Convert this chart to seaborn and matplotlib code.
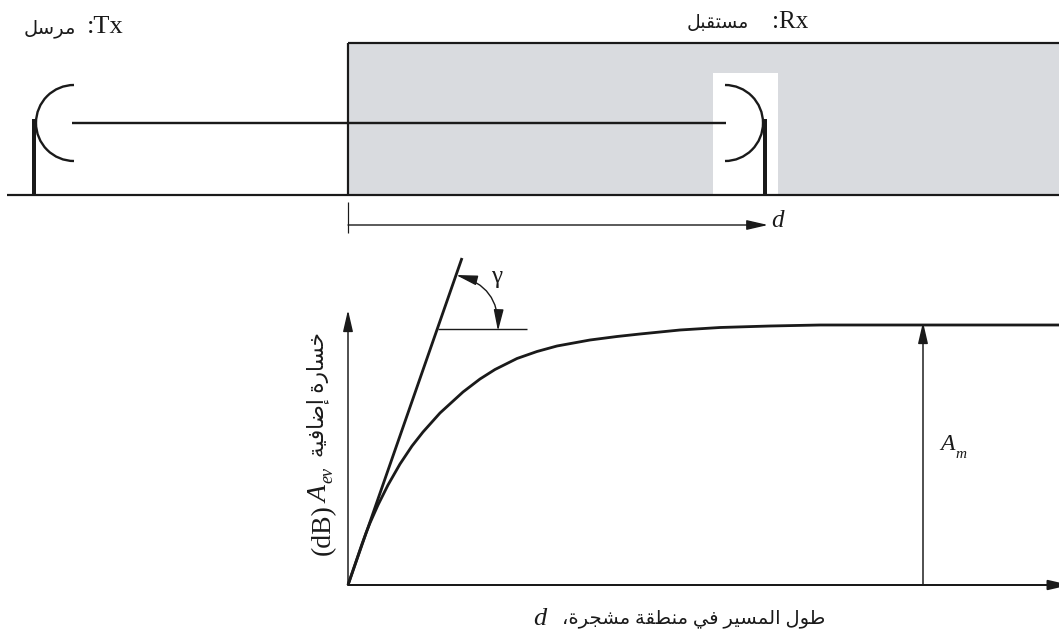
import unicodedata
import matplotlib
matplotlib.use('Agg')
import matplotlib.pyplot as plt
from matplotlib.patches import Arc, FancyArrowPatch, Rectangle
import seaborn as sns

SERIF = ['Liberation Serif', 'DejaVu Sans']
INK = '#1a1a1a'

curve_x = [348, 362, 366, 370, 378, 388, 400, 412, 423, 440, 463, 480, 495, 517, 537, 557, 590, 617, 640, 680, 720, 770, 820, 1059]
curve_y = [585, 544, 533, 523, 505, 485, 464, 446, 432, 413, 392, 379, 369.5, 358.5, 351.5, 346, 340, 336.5, 334, 330, 327.5, 326, 325, 325]
tangent_x = [348, 462]
tangent_y = [585, 258]
slope_ref_x = [438, 527]
slope_ref_y = [329, 329]

ground_x = [7, 1059]
ground_y = [195, 195]
beam_x = [72, 726]
beam_y = [123, 123]
tx_mast_x = [34, 34]
rx_mast_x = [765, 765]
mast_y = [119, 195]
forest_left = 348
forest_right = 1059
forest_top = 43
forest_bottom = 195
gap_left = 713
gap_right = 778
gap_top = 73
tx_dish = (74, 123)
rx_dish = (725, 123)
dish_size = 76

tx_label = 'مرسل'
rx_label = 'مستقبل'
y_label = 'خسارة إضافية'
x_label = 'طول المسير في منطقة مشجرة،'

NO_LEFT_JOIN = 'اأإآدذرزوؤةى'


def shape(text):
    """ Picks the joined glyph forms and flips the text, matplotlib draws left to right only. """
    words = []
    for word in text.split(' '):
        out = ''
        for i, c in enumerate(word):
            if not '\u0621' <= c <= '\u064a':
                out += c
                continue
            before = i > 0 and '\u0621' <= word[i-1] <= '\u064a' and word[i-1] not in NO_LEFT_JOIN
            after = i < len(word)-1 and '\u0621' <= word[i+1] <= '\u064a' and c not in NO_LEFT_JOIN
            form = {(0, 0): 'ISOLATED', (1, 0): 'FINAL', (0, 1): 'INITIAL', (1, 1): 'MEDIAL'}[(int(before), int(after))]
            out += unicodedata.lookup(unicodedata.name(c) + ' ' + form + ' FORM')
        words.append(out[::-1])
    return ' '.join(words[::-1])


def line(ax, xs, ys, width):
    sns.lineplot(x=xs, y=ys, ax=ax, color=INK, linewidth=width*0.72, sort=False,
                 estimator=None, legend=False, solid_capstyle='butt', solid_joinstyle='round')


def arrow(ax, start, end, style='-|>', rad=0.0, width=1.5):
    style = f'{style},head_length=13,head_width=3'
    ax.add_patch(FancyArrowPatch(start, end, arrowstyle=style, mutation_scale=1, shrinkA=0, shrinkB=0,
                                 connectionstyle=f'arc3,rad={rad}', color=INK, linewidth=width*0.72, zorder=4))


def label(ax, x, y, text, size, italic=False, ha='left', rotation=0):
    ax.text(x, y, text, family=SERIF, style='italic' if italic else 'normal', fontsize=size, ha=ha,
            va='baseline', rotation=rotation, rotation_mode='anchor', color=INK)


sns.set_theme(style='white')
fig, ax = plt.subplots(figsize=(10.59, 6.35), dpi=100)
fig.subplots_adjust(0, 0, 1, 1)
ax.set_xlim(0, 1059)
ax.set_ylim(635, 0)
ax.axis('off')

# Top part, wooded area and the link
ax.add_patch(Rectangle((forest_left, forest_top), forest_right-forest_left, forest_bottom-forest_top,
                       facecolor='#d9dbdf', edgecolor='none', zorder=0))
ax.add_patch(Rectangle((gap_left, gap_top), gap_right-gap_left, forest_bottom-gap_top,
                       facecolor='white', edgecolor='none', zorder=1))
line(ax, [forest_left, forest_left], [forest_bottom, forest_top], 2.2)
line(ax, [forest_left, forest_right], [forest_top, forest_top], 2.2)
line(ax, ground_x, ground_y, 2.2)
line(ax, beam_x, beam_y, 2.4)
line(ax, tx_mast_x, mast_y, 4)
line(ax, rx_mast_x, mast_y, 4)
ax.add_patch(Arc(tx_dish, dish_size, dish_size, theta1=90, theta2=270, color=INK, linewidth=1.7, zorder=3))
ax.add_patch(Arc(rx_dish, dish_size, dish_size, theta1=-90, theta2=90, color=INK, linewidth=1.7, zorder=3))

# Distance marker, arrow ends sit 3 px past the tip because the head stroke pulls back
line(ax, [348, 348], [202, 233], 1.2)
arrow(ax, (348, 225), (768, 225), width=1.4)

# Lower part, loss curve
line(ax, curve_x, curve_y, 2.8)
line(ax, tangent_x, tangent_y, 2.8)
line(ax, slope_ref_x, slope_ref_y, 1.4)
arrow(ax, (348, 585), (348, 310), width=1.5)
arrow(ax, (348, 585), (1070, 585), width=2.0)
arrow(ax, (923, 585), (923, 322), width=1.5)
arrow(ax, (498, 331), (456, 275), style='<|-|>', rad=0.4, width=1.4)

# Labels
label(ax, 76, 33, shape(tx_label), 14, ha='right')
label(ax, 124, 33, ':Tx', 19, ha='right')
label(ax, 749, 28, shape(rx_label), 13.5, ha='right')
label(ax, 808, 28, ':Rx', 18, ha='right')
label(ax, 777, 227, 'd', 18, italic=True, ha='center')
label(ax, 497, 283, 'γ', 18, ha='center')
label(ax, 940, 450, 'A', 17, italic=True)
label(ax, 955, 458, 'm', 11, italic=True)
label(ax, 825, 623, shape(x_label), 14, ha='right')
label(ax, 540, 625, 'd', 19, italic=True, ha='center')
label(ax, 330, 555, '(dB)', 20, rotation=90)
label(ax, 328, 503, 'A', 20, italic=True, rotation=90)
label(ax, 332, 483, 'ev', 13, italic=True, rotation=90)
label(ax, 323, 332, shape(y_label), 15.5, ha='right', rotation=90)

plt.savefig('out.png', dpi=100)
print("Saved chart")
